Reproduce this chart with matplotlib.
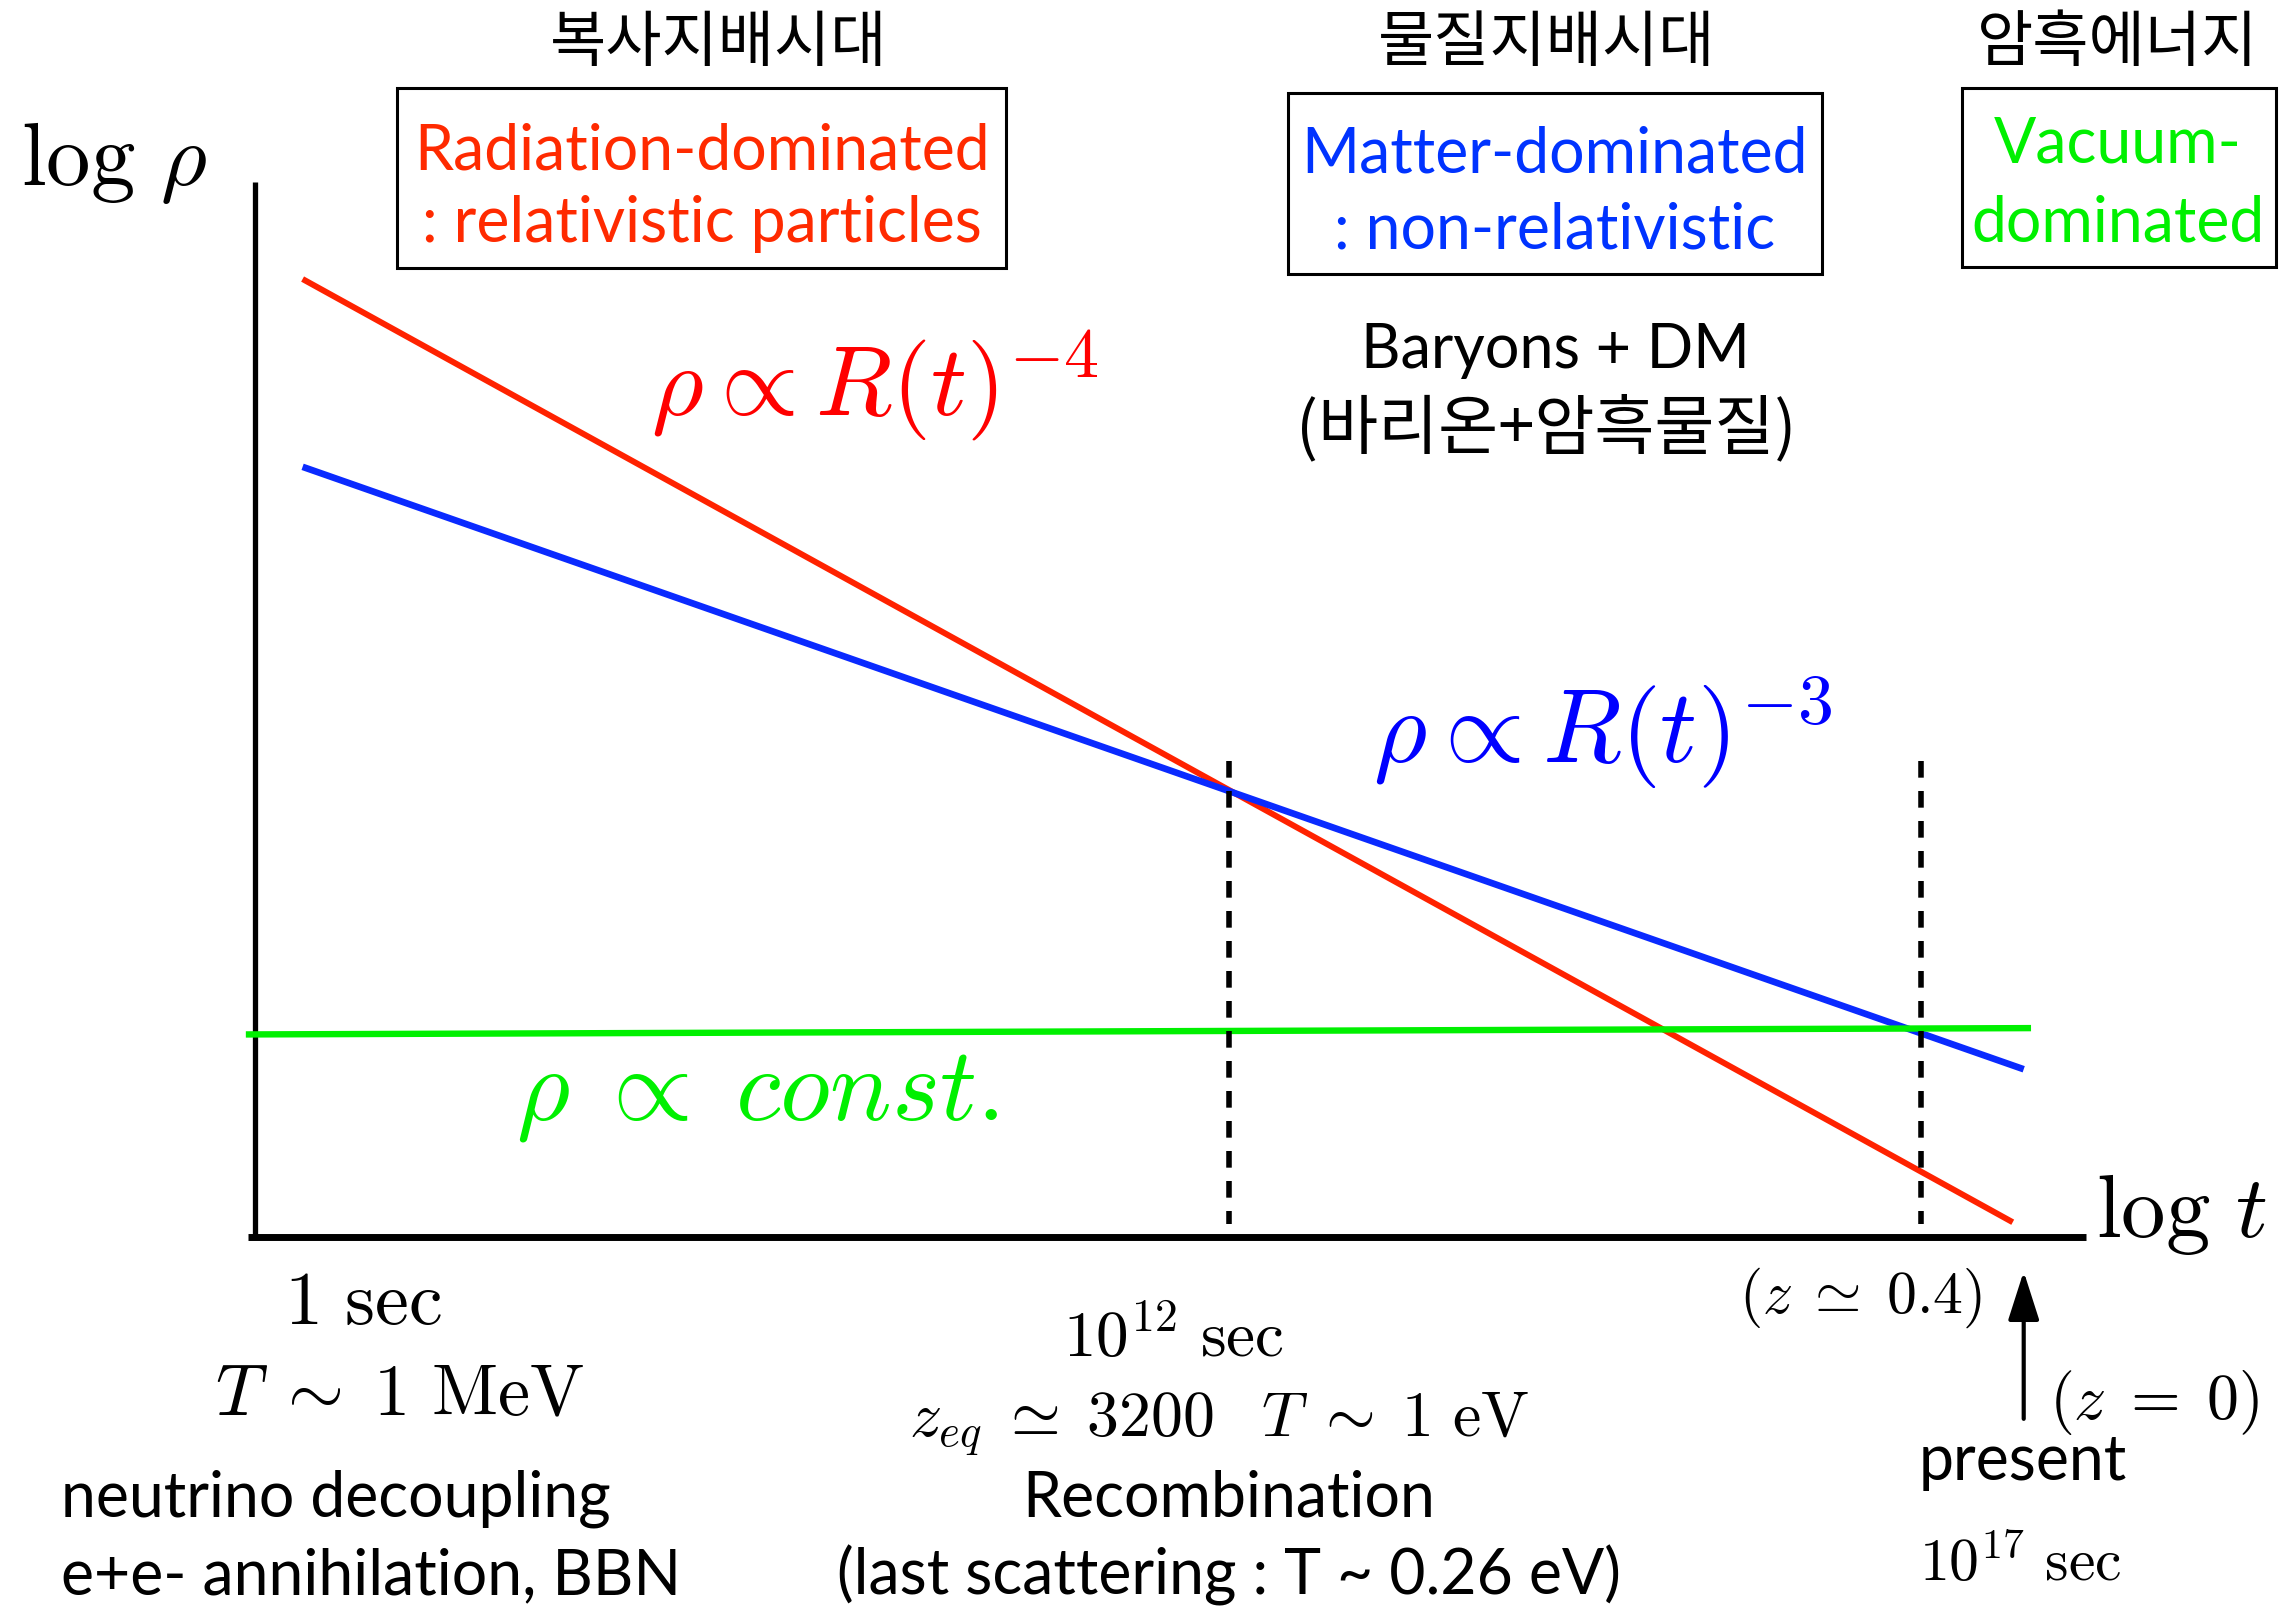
import matplotlib
matplotlib.use("Agg")
import matplotlib.pyplot as plt
from matplotlib.patches import Rectangle

plt.rcParams['mathtext.fontset'] = 'cm'

# schematic log t / log rho coordinates (arbitrary units, axes run 0..10)
radiation_t = [0.26, 9.60]
radiation_rho = [9.08, 0.14]
matter_t = [0.26, 9.66]
matter_rho = [7.30, 1.59]
vacuum_t = [-0.05, 9.70]
vacuum_rho = [1.92, 1.98]

# epochs: matter-radiation equality and z ~ 0.4
epoch_t = [5.32, 9.10]
epoch_top = 4.51
present_t = 9.66

RED = '#ff2200'
BLUE = '#0a2aff'
GREEN = '#00f000'
SANS = ['Lato', 'DejaVu Sans']
KR = ['Noto Sans CJK KR', 'DejaVu Sans']

fig = plt.figure(figsize=(22.87, 16.11), dpi=100)
ax = fig.add_axes([0, 0, 1, 1])
ax.set_xlim(-1.3927, 11.098)
ax.set_ylim(-3.545, 11.725)
ax.axis('off')

# axes drawn by hand
ax.plot([0, 0], [0, 10], color='black', lw=3.8, solid_capstyle='butt')
ax.plot([-0.04, 10.0], [0, 0], color='black', lw=5, solid_capstyle='butt')

ax.plot(radiation_t, radiation_rho, color=RED, lw=4.3, solid_capstyle='butt')
ax.plot(matter_t, matter_rho, color=BLUE, lw=4.8, solid_capstyle='butt')
ax.plot(vacuum_t, vacuum_rho, color=GREEN, lw=4.6, solid_capstyle='butt', clip_on=False)
for t in epoch_t:
    ax.plot([t, t], [epoch_top, 0.12], color='black', lw=4.0, dashes=(3.0, 2.4))

ax.annotate('', xy=(present_t, -0.30), xytext=(present_t, -1.75),
            arrowprops=dict(arrowstyle='-|>,head_length=0.5,head_width=0.16',
                            color='black', lw=3, mutation_scale=60))

# axis labels
ax.text(-0.77, 9.97, r'$\log\,\rho$', fontsize=64, ha='center', va='baseline')
ax.text(10.52, 0.0, r'$\log\,t$', fontsize=64, ha='center', va='baseline')

# era titles
ax.text(2.534, 11.31, '복사지배시대', family=KR, fontsize=44, ha='center', va='center')
ax.text(7.056, 11.31, '물질지배시대', family=KR, fontsize=44, ha='center', va='center')
ax.text(10.17, 11.31, '암흑에너지', family=KR, fontsize=44, ha='center', va='center')

# era boxes
for (x0, x1, y0, y1) in [(0.776, 4.102, 9.185, 10.89),
                         (5.642, 8.558, 9.128, 10.84),
                         (9.323, 11.04, 9.194, 10.89)]:
    ax.add_patch(Rectangle((x0, y0), x1 - x0, y1 - y0, fill=False,
                           edgecolor='black', lw=2.2))

ax.text(2.441, 10.12, 'Radiation-dominated', family=SANS, fontsize=45,
        color='#ff2a00', ha='center', va='baseline')
ax.text(2.441, 9.43, ': relativistic particles', family=SANS, fontsize=45,
        color='#ff2a00', ha='center', va='baseline')
ax.text(7.100, 10.09, 'Matter-dominated', family=SANS, fontsize=45,
        color='#0033ff', ha='center', va='baseline')
ax.text(7.100, 9.365, ': non-relativistic', family=SANS, fontsize=45,
        color='#0033ff', ha='center', va='baseline')
ax.text(10.175, 10.18, 'Vacuum-', family=SANS, fontsize=45,
        color=GREEN, ha='center', va='baseline')
ax.text(10.175, 9.44, 'dominated', family=SANS, fontsize=45,
        color=GREEN, ha='center', va='baseline')

# scaling laws
ax.text(3.386, 7.78, r'$\rho \propto R(t)^{-4}$', fontsize=72, color='#ff0000',
        ha='center', va='baseline')
ax.text(7.362, 4.49, r'$\rho \propto R(t)^{-3}$', fontsize=74, color='#0000ff',
        ha='center', va='baseline')
ax.text(2.742, 1.11, r'$\rho \;\propto\; const.$', fontsize=74, color=GREEN,
        ha='center', va='baseline')

ax.text(7.100, 8.24, 'Baryons + DM', family=SANS, fontsize=44, ha='center', va='baseline')
ax.text(7.051, 7.65, '(바리온+암흑물질)', family=KR, fontsize=47, ha='center', va='center')

# timeline annotations
ax.text(0.590, -0.825, r'$1\ \mathrm{sec}$', fontsize=55, ha='center', va='baseline')
ax.text(0.792, -1.687, r'$T \;\sim\; 1\ \mathrm{MeV}$', fontsize=52, ha='center', va='baseline')
ax.text(-1.060, -2.654, 'neutrino decoupling', family=SANS, fontsize=45, ha='left', va='baseline')
ax.text(-1.060, -3.384, 'e+e- annihilation, BBN', family=SANS, fontsize=45, ha='left', va='baseline')

ax.text(5.014, -1.128, r'$10^{12}\ \mathrm{sec}$', fontsize=47, ha='center', va='baseline')
ax.text(5.265, -1.896, r'$z_{eq} \;\simeq\; 3200\;\;\; T \;\sim\; 1\ \mathrm{eV}$', fontsize=46,
        ha='center', va='baseline')
ax.text(5.319, -2.654, 'Recombination', family=SANS, fontsize=45, ha='center', va='baseline')
ax.text(5.319, -3.384, '(last scattering : T ~ 0.26 eV)', family=SANS, fontsize=45,
        ha='center', va='baseline')

ax.text(8.771, -0.72, r'$(z \;\simeq\; 0.4)$', fontsize=43, ha='center', va='baseline')
ax.text(10.371, -1.725, r'$(z \;=\; 0)$', fontsize=46, ha='center', va='baseline')
ax.text(9.656, -2.303, 'present', family=SANS, fontsize=45, ha='center', va='baseline')
ax.text(9.640, -3.270, r'$10^{17}\ \mathrm{sec}$', fontsize=43, ha='center', va='baseline')

fig.savefig('out.png', dpi=100)
